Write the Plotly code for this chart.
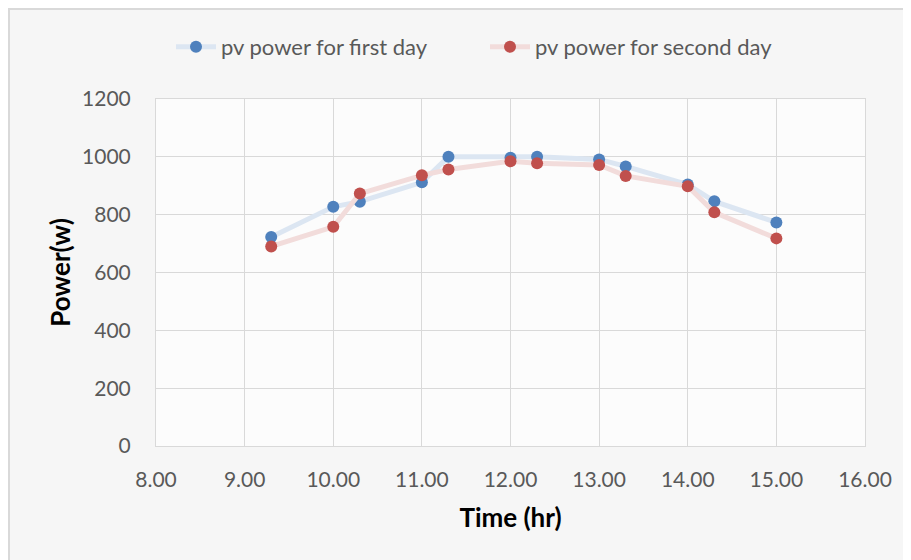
import plotly.graph_objects as go

time_hr = [9.3, 10.0, 10.3, 11.0, 11.3, 12.0, 12.3, 13.0, 13.3, 14.0, 14.3, 15.0]
power_day1 = [723, 827, 845, 912, 1000, 997, 1000, 991, 967, 904, 846, 773]
power_day2 = [690, 758, 873, 936, 956, 985, 978, 972, 934, 898, 808, 718]

x_ticks = [8, 9, 10, 11, 12, 13, 14, 15, 16]
x_tick_labels = ["8.00", "9.00", "10.00", "11.00", "12.00", "13.00", "14.00", "15.00", "16.00"]
y_ticks = [0, 200, 400, 600, 800, 1000, 1200]

FONT = "Lato, 'Liberation Sans', sans-serif"

fig = go.Figure()
fig.add_trace(go.Scatter(
    x=time_hr, y=power_day1, mode="lines+markers",
    name="pv power for first day",
    line=dict(color="#dce6f2", width=5),
    marker=dict(color="#4f81bd", size=12),
))
fig.add_trace(go.Scatter(
    x=time_hr, y=power_day2, mode="lines+markers",
    name="pv power for second day",
    line=dict(color="#f2dcdb", width=5),
    marker=dict(color="#c0504d", size=12),
))

# page body has an 8px margin, so figure is offset by 8px
OFF = 8
W, H = 911 - OFF, 560 - OFF
L, T = 156 - OFF, 99 - OFF
pw, ph = 709, 347
R = W - L - pw
B = H - T - ph

def px_x(px):
    return (px - OFF - L) / pw

def px_y(py):
    return (H - B - (py - OFF)) / ph

shapes = [
    dict(type="rect", xref="paper", yref="paper", layer="below",
         x0=px_x(9), x1=px_x(960), y0=px_y(9), y1=px_y(620),
         fillcolor="#f6f6f6", line=dict(color="#d9d9d9", width=2)),
    dict(type="rect", xref="paper", yref="paper", layer="below",
         x0=0, x1=1, y0=0, y1=1,
         fillcolor="#fcfcfc", line=dict(width=0)),
]

fig.update_layout(
    width=W, height=H,
    margin=dict(l=L, r=R, t=T, b=B),
    paper_bgcolor="white",
    plot_bgcolor="rgba(0,0,0,0)",
    font=dict(family=FONT, color="#595959", size=21),
    shapes=shapes,
    showlegend=True,
    legend=dict(
        orientation="h", x=px_x(485), xanchor="center",
        y=px_y(47), yanchor="middle",
        font=dict(size=22, color="#595959"),
        bgcolor="rgba(0,0,0,0)", itemwidth=40,
        entrywidth=259,
        traceorder="normal",
    ),
    xaxis=dict(
        range=[8, 16], tickvals=x_ticks, ticktext=x_tick_labels,
        showgrid=True, gridcolor="#d9d9d9", gridwidth=1,
        showline=True, linecolor="#d9d9d9", mirror=True,
        zeroline=False, ticks="", ticklabelstandoff=15,
        title=dict(text="<b>Time (hr)</b>", font=dict(size=26, color="black"), standoff=18),
    ),
    yaxis=dict(
        range=[0, 1200], tickvals=y_ticks,
        showgrid=True, gridcolor="#d9d9d9", gridwidth=1,
        showline=True, linecolor="#d9d9d9", mirror=True,
        zeroline=False, ticks="", ticklabelstandoff=20,
        title=dict(text="<b>Power(w)</b>", font=dict(size=26, color="black"), standoff=3),
    ),
)

fig.write_html("out.html")
